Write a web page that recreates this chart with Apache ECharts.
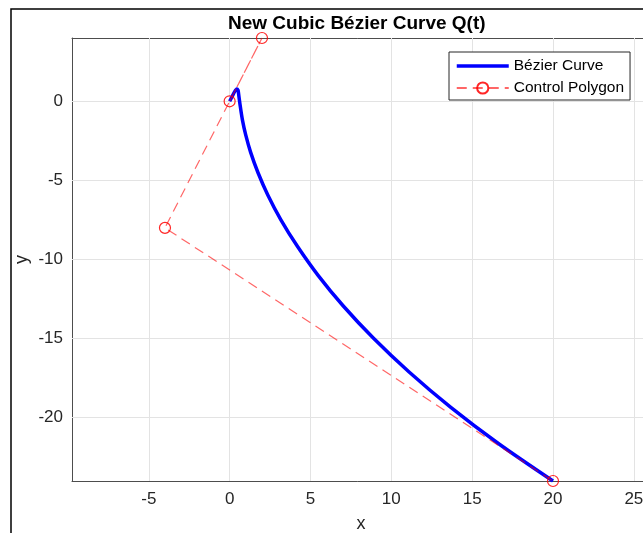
<!DOCTYPE html>
<html>
<head>
<meta charset="utf-8">
<script src="https://cdn.jsdelivr.net/npm/echarts@6/dist/echarts.min.js"></script>
<style>
  html, body { margin: 0; padding: 0; background: #fff; }
  #chart { width: 643px; height: 533px; }
</style>
</head>
<body>
<div id="chart"></div>
<script>
// control points of Q(t)
const controlPoints = [[0, 0], [2, 4], [-4, -8], [20, -24]]

// curve points
const curvePoints = [
  [0, 0], [0.14, 0.27], [0.24, 0.48], [0.33, 0.64], [0.40, 0.73], [0.45, 0.77],
  [0.49, 0.76], [0.52, 0.69], [0.54, 0.58], [0.59, 0.19], [0.67, -0.40],
  [0.79, -1.17], [0.99, -2.11], [1.30, -3.23], [1.75, -4.50], [2.36, -5.92],
  [3.17, -7.49], [4.20, -9.18], [5.47, -11.00], [7.03, -12.94], [8.90, -14.98],
  [11.10, -17.11], [13.66, -19.33], [16.62, -21.63], [20, -24]
]

const xTicks = [-5, 0, 5, 10, 15, 20, 25]
const yTicks = [-20, -15, -10, -5, 0]

const axisColor = '#4d4d4d'
const textColor = '#262626'
const fontFamily = 'Arial, "Liberation Sans", Helvetica, sans-serif'

const chart = echarts.init(document.getElementById('chart'))

const gridLines = xTicks.map(v => ({ xAxis: v })).concat(yTicks.map(v => ({ yAxis: v })))

chart.setOption({
  animation: false,
  backgroundColor: '#fff',
  textStyle: { fontFamily: fontFamily },
  title: {
    text: 'New Cubic Bézier Curve Q(t)',
    left: 228,
    top: 14,
    padding: 0,
    textStyle: { fontSize: 19, fontWeight: 'bold', color: '#000', fontFamily: fontFamily }
  },
  graphic: [{
    type: 'rect',
    silent: true,
    z: -1,
    shape: { x: 11, y: 9, width: 800, height: 800 },
    style: { fill: 'none', stroke: '#000', lineWidth: 1.5 }
  }],
  legend: {
    data: [
      { name: 'Bézier Curve', itemStyle: { opacity: 0 }, lineStyle: { width: 3.5 } },
      { name: 'Control Polygon' }
    ],
    orient: 'vertical',
    left: 449,
    top: 52,
    padding: [6, 6, 4, 6],
    itemGap: 6,
    itemWidth: 52,
    itemHeight: 14,
    borderColor: '#262626',
    borderWidth: 1,
    backgroundColor: '#fff',
    textStyle: { fontSize: 15.5, color: '#000', fontFamily: fontFamily }
  },
  grid: {
    left: 72,
    top: 38,
    width: 578,
    height: 443,
    outerBoundsMode: 'none'
  },
  xAxis: [{
    type: 'value',
    min: -9.75,
    max: 26,
    position: 'bottom',
    name: 'x',
    nameLocation: 'middle',
    nameGap: 34,
    nameMoveOverlap: false,
    nameTextStyle: { fontSize: 18, color: textColor },
    axisLine: { onZero: false, lineStyle: { color: axisColor, width: 1 } },
    axisTick: { inside: true, length: 6, customValues: xTicks, lineStyle: { color: axisColor } },
    axisLabel: { customValues: xTicks, fontSize: 17, color: textColor, margin: 10 },
    splitLine: { show: false }
  }, {
    type: 'value',
    min: -9.75,
    max: 26,
    position: 'top',
    axisLine: { onZero: false, lineStyle: { color: axisColor, width: 1 } },
    axisTick: { inside: true, length: 6, customValues: xTicks, lineStyle: { color: axisColor } },
    axisLabel: { show: false },
    splitLine: { show: false }
  }],
  yAxis: {
    type: 'value',
    min: -24,
    max: 4,
    name: 'y',
    nameLocation: 'middle',
    nameGap: 41,
    nameMoveOverlap: false,
    nameTextStyle: { fontSize: 18, color: textColor },
    axisLine: { show: true, onZero: false, lineStyle: { color: axisColor, width: 1 } },
    axisTick: { show: true, inside: true, length: 6, customValues: yTicks, lineStyle: { color: axisColor } },
    axisLabel: { customValues: yTicks, fontSize: 17, color: textColor, margin: 9 },
    splitLine: { show: false }
  },
  series: [
    {
      name: 'grid',
      type: 'line',
      data: [],
      z: 1,
      silent: true,
      markLine: {
        silent: true,
        z: 1,
        symbol: ['none', 'none'],
        label: { show: false },
        lineStyle: { color: '#e3e3e3', type: 'solid', width: 1 },
        data: gridLines
      }
    },
    {
      name: 'Bézier Curve',
      type: 'line',
      data: curvePoints,
      smooth: 0.3,
      showSymbol: false,
      symbol: 'none',
      z: 3,
      lineStyle: { color: '#0000ff', width: 3.5 },
      itemStyle: { color: '#0000ff' }
    },
    {
      name: 'Control Polygon',
      type: 'line',
      data: controlPoints,
      clip: false,
      z: 4,
      symbol: 'circle',
      symbolSize: 11,
      lineStyle: { color: 'rgba(255,0,0,0.6)', width: 1.2, type: [10, 6] },
      itemStyle: { color: 'rgba(255,255,255,0)', borderColor: 'rgba(255,0,0,0.85)', borderWidth: 1.2 }
    }
  ]
})
</script>
</body>
</html>
